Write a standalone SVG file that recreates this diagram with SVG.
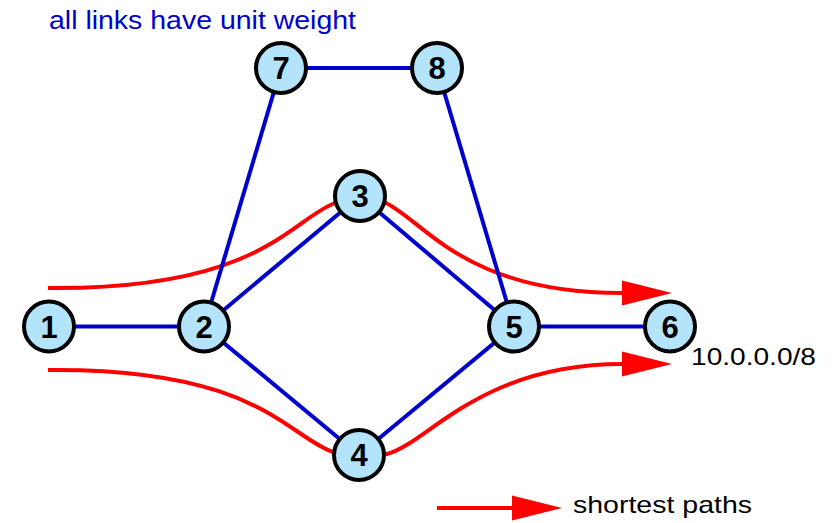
<svg xmlns="http://www.w3.org/2000/svg" width="838" height="523" viewBox="0 0 838 523">
<style>
.link{stroke:#0000cc;stroke-width:4;fill:none}
.path{stroke:#ff0000;stroke-width:4;fill:none}
.head{fill:#ff0000}
.node circle{fill:#b3e4fb;stroke:#000;stroke-width:4}
.node text{font-family:"Liberation Sans",Arial,sans-serif;font-weight:bold;font-size:31px;text-anchor:middle;fill:#000}
.lbl{font-family:"Liberation Sans",Arial,sans-serif;font-size:24px}
</style>
<rect width="838" height="523" fill="#fff"/>
<text class="lbl" x="49" y="28.5" fill="#0000cc" style="font-size:25px" textLength="307" lengthAdjust="spacingAndGlyphs">all links have unit weight</text>
<g id="paths">
<path class="path" d="M48,288 C260,290 290,220 335,203 L386,203 C426,223 466,293 622,293"/>
<polygon class="head" points="622,280.5 672,293 622,305.5"/>
<path class="path" d="M48,370 C258,368 288,437 333,452 L387,454 C427,444 480,364 622,364"/>
<polygon class="head" points="622,351.5 672,364 622,376.5"/>
</g>
<g id="connectors">
<line class="link" x1="49" y1="326.5" x2="204" y2="326.5"/>
<line class="link" x1="204" y1="326.5" x2="360" y2="196"/>
<line class="link" x1="204" y1="326.5" x2="359" y2="455"/>
<line class="link" x1="204" y1="326.5" x2="281" y2="68"/>
<line class="link" x1="281" y1="68" x2="437" y2="68"/>
<line class="link" x1="437" y1="68" x2="514" y2="326.5"/>
<line class="link" x1="360" y1="196" x2="514" y2="326.5"/>
<line class="link" x1="359" y1="455" x2="514" y2="326.5"/>
<line class="link" x1="514" y1="326.5" x2="670" y2="326.5"/>
</g>
<g id="node1" class="node"><circle cx="49" cy="326.5" r="25"/><text x="49" y="337.5">1</text></g>
<g id="node2" class="node"><circle cx="204" cy="326.5" r="25"/><text x="204" y="337.5">2</text></g>
<g id="node3" class="node"><circle cx="360" cy="196" r="25"/><text x="360" y="207">3</text></g>
<g id="node4" class="node"><circle cx="359" cy="455" r="25"/><text x="359" y="466">4</text></g>
<g id="node5" class="node"><circle cx="514" cy="326.5" r="25"/><text x="514" y="337.5">5</text></g>
<g id="node6" class="node"><circle cx="670" cy="326.5" r="25"/><text x="670" y="337.5">6</text></g>
<g id="node7" class="node"><circle cx="281" cy="68" r="25"/><text x="281" y="79">7</text></g>
<g id="node8" class="node"><circle cx="437" cy="68" r="25"/><text x="437" y="79">8</text></g>
<text class="lbl" x="691" y="365" fill="#000" textLength="125" lengthAdjust="spacingAndGlyphs">10.0.0.0/8</text>
<g id="legend">
<line class="path" x1="437" y1="508" x2="512" y2="508"/>
<polygon class="head" points="512,495.5 562,508 512,520.5"/>
<text class="lbl" x="573" y="513" fill="#000" textLength="179" lengthAdjust="spacingAndGlyphs">shortest paths</text>
</g>
</svg>
